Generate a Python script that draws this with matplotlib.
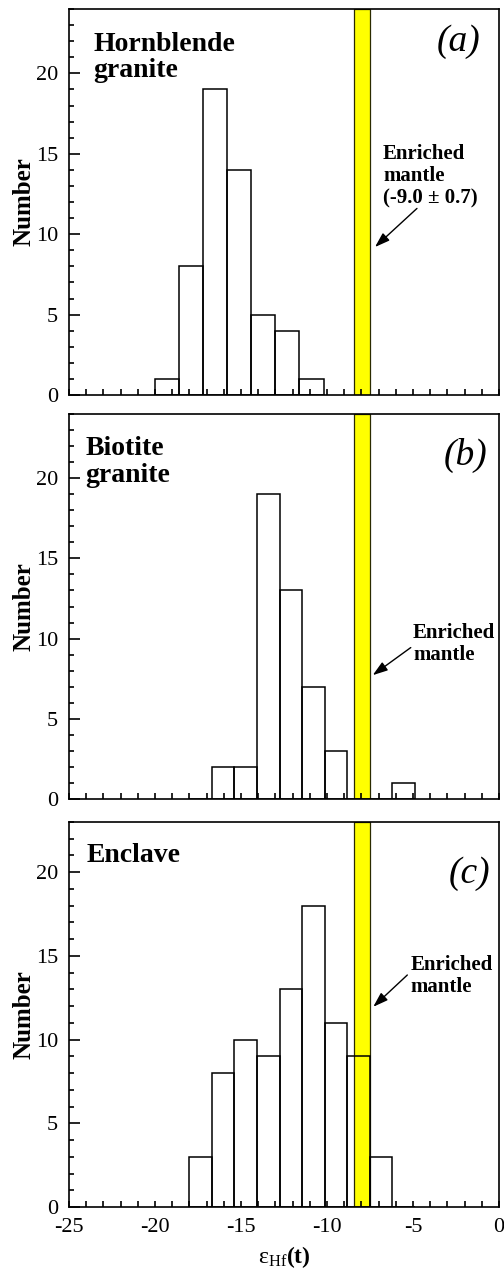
import numpy as np
import matplotlib
matplotlib.use("Agg")
import matplotlib.pyplot as plt
from matplotlib.ticker import MultipleLocator

plt.rcParams['font.family'] = ['Liberation Serif', 'DejaVu Serif']
plt.rcParams['mathtext.fontset'] = 'custom'
plt.rcParams['mathtext.rm'] = 'Liberation Serif'
plt.rcParams['mathtext.bf'] = 'Liberation Serif:bold'
plt.rcParams['mathtext.it'] = 'Liberation Serif:italic'
plt.rcParams['axes.unicode_minus'] = False

# ---- data ----
edges_a = [-20.0, -18.6, -17.2, -15.8, -14.4, -13.0, -11.6, -10.2]
counts_a = [1, 8, 19, 14, 5, 4, 1]

edges_bc = [-18.0, -16.69, -15.38, -14.07, -12.76, -11.45, -10.14, -8.83, -7.52, -6.21, -4.90]
counts_b = [0, 2, 2, 19, 13, 7, 3, 0, 0, 1]
counts_c = [3, 8, 10, 9, 13, 18, 11, 9, 3, 0]

panel_names = ["Hornblende\ngranite", "Biotite\ngranite", "Enclave"]
panel_tags = ["(a)", "(b)", "(c)"]
mantle_texts = ["Enriched\nmantle\n(-9.0 \u00b1 0.7)", "Enriched\nmantle", "Enriched\nmantle"]
band_lo, band_hi = -8.45, -7.48
ylims = [24, 24, 23]

W, H = 504, 1273
fig = plt.figure(figsize=(W / 100, H / 100), dpi=100)

left = 69 / W
width = 430 / W
tops_bottoms = [(9, 395), (414, 799), (822, 1207)]

name_pos = [(-23.6, 22.6), (-24.05, 22.65), (-24.0, 21.75)]
tag_pos = [(0.956, 0.916), (0.974, 0.892), (0.979, 0.867)]
mtext_pos = [(-6.74, 15.6), (-5.0, 10.97), (-5.13, 15.05)]
arrow_tail = [(-4.77, 11.6), (-5.13, 9.44), (-5.33, 13.86)]
arrow_head = [(-7.21, 9.2), (-7.34, 7.72), (-7.31, 11.96)]

datasets = [(edges_a, counts_a), (edges_bc, counts_b), (edges_bc, counts_c)]

xlabel = '$\\mathrm{\u03b5}_{\\mathrm{Hf}}\\mathbf{(t)}$'

for i in range(3):
    t, b = tops_bottoms[i]
    ax = fig.add_axes([left, 1 - b / H, width, (b - t) / H])
    edges, counts = datasets[i]
    edges = np.array(edges)
    widths = np.diff(edges)
    ax.axvspan(band_lo, band_hi, facecolor='#FFFF00', edgecolor='#2a2a00', linewidth=0.9, zorder=1)
    ax.bar(edges[:-1], counts, width=widths, align='edge', fill=False,
           edgecolor='black', linewidth=1.1, zorder=2)
    ax.set_xlim(-25, 0)
    ax.set_ylim(0, ylims[i])
    ax.xaxis.set_major_locator(MultipleLocator(5))
    ax.xaxis.set_minor_locator(MultipleLocator(1))
    ax.yaxis.set_major_locator(MultipleLocator(5))
    ax.yaxis.set_minor_locator(MultipleLocator(1))
    ax.tick_params(which='both', direction='in', top=False, right=False, width=1.2,
                   labelsize=16)
    ax.tick_params(axis='y', which='major', length=8, pad=8)
    ax.tick_params(axis='y', which='minor', length=3.5)
    ax.tick_params(axis='x', which='major', length=4.5, pad=8)
    ax.tick_params(axis='x', which='minor', length=4)
    for sp in ax.spines.values():
        sp.set_linewidth(1.2)
    if i < 2:
        ax.tick_params(axis='x', labelbottom=False)
    else:
        ax.set_xlabel(xlabel, fontsize=17, labelpad=5)
    ax.set_ylabel('Number', fontsize=18, fontweight='bold', labelpad=0)
    ax.text(name_pos[i][0], name_pos[i][1], panel_names[i], fontsize=20, fontweight='bold',
            ha='left', va='top', linespacing=1.1, zorder=3)
    ax.text(tag_pos[i][0], tag_pos[i][1], panel_tags[i], transform=ax.transAxes,
            fontsize=27, fontstyle='italic', ha='right', va='center', zorder=3)
    ax.text(mtext_pos[i][0], mtext_pos[i][1], mantle_texts[i], fontsize=15, fontweight='bold',
            ha='left', va='top', linespacing=1.15, zorder=3)
    ax.annotate('', xy=arrow_head[i], xytext=arrow_tail[i],
                arrowprops=dict(arrowstyle='-|>,head_length=0.9,head_width=0.3',
                                color='black', lw=1.0, shrinkA=0, shrinkB=0), zorder=4)

fig.savefig('out.png', dpi=100)
